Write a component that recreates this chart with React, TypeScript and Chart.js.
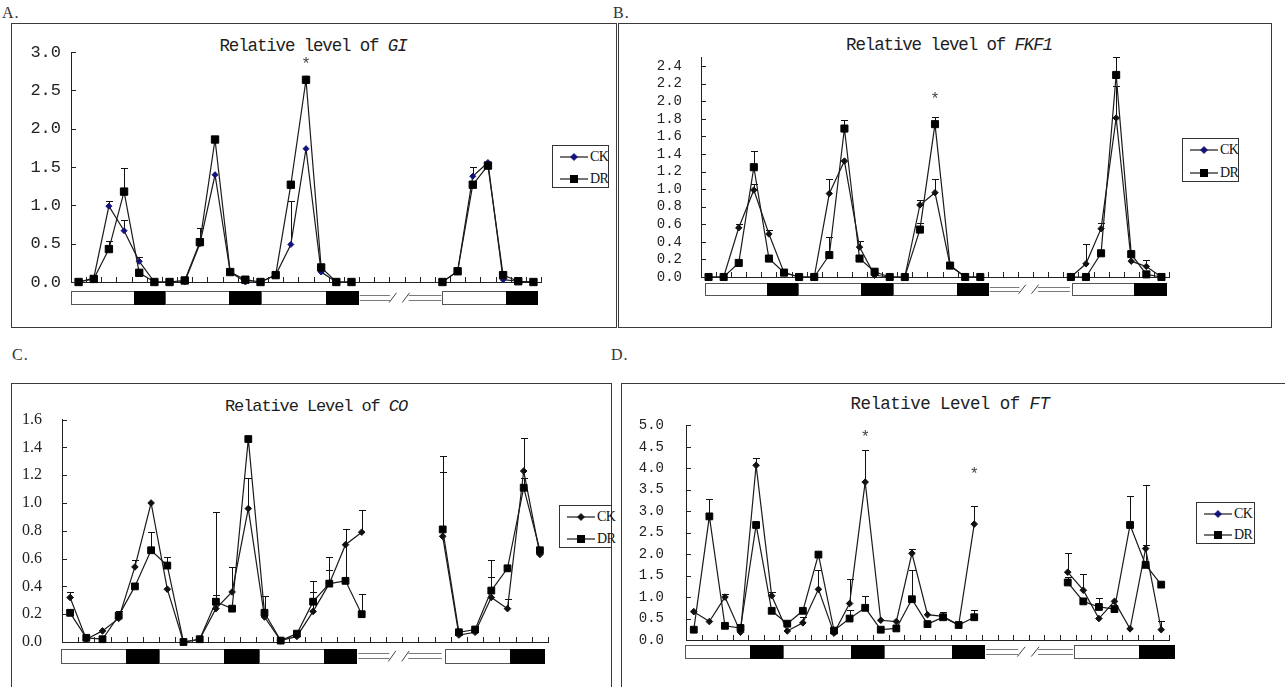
import React, { useEffect, useRef } from 'react';
import { Chart, registerables } from 'chart.js';
Chart.register(...registerables);

const _ = null;

const seriesNames = ['CK', 'DR'];

// sampling time points (h): three consecutive days, a break, then one more day
const timesLong = ['0', '4', '8', '12', '16', '20', '24', '28', '32', '36', '40', '44', '48', '52', '56', '60', '64', '68', '72', 'b1', 'b2', 'b3', 'b4', 'b5', '144', '148', '152', '156', '160', '164', '168'];
const timesShort = ['0', '4', '8', '12', '16', '20', '24', '28', '32', '36', '40', '44', '48', '52', '56', '60', '64', '68', '72', 'b1', 'b2', 'b3', 'b4', '144', '148', '152', '156', '160', '164', '168'];

// ---- A: GI ----
const giCK = [0, 0.05, 0.99, 0.67, 0.27, 0, 0, 0, 0.50, 1.40, 0.13, 0, 0, 0.09, 0.49, 1.74, 0.13, 0, 0, _, _, _, _, _, 0, 0.14, 1.38, 1.56, 0.03, 0.01, 0];
const giDR = [0, 0.04, 0.43, 1.18, 0.12, 0, 0, 0.02, 0.52, 1.86, 0.13, 0.03, 0, 0.09, 1.27, 2.64, 0.19, 0, 0, _, _, _, _, _, 0, 0.14, 1.27, 1.52, 0.09, 0.01, 0];
const giCKErr = [0, 0, 0.07, 0.14, 0.05, 0, 0, 0, 0, 0, 0, 0, 0, 0, 0.57, 0, 0, 0, 0, _, _, _, _, _, 0, 0, 0.12, 0, 0, 0, 0];
const giDRErr = [0, 0, 0.11, 0.31, 0, 0, 0, 0, 0.18, 0, 0, 0, 0, 0, 0, 0, 0, 0, 0, _, _, _, _, _, 0, 0, 0, 0, 0, 0, 0];
const giTicks = [0, 0.5, 1.0, 1.5, 2.0, 2.5, 3.0];
const giStarIdx = [15];
const giStarLvl = [2.84];
const giPhoto = [['L', -0.48, 3.67], ['D', 3.67, 5.71], ['L', 5.71, 9.92], ['D', 9.92, 12.03], ['L', 12.03, 16.3], ['D', 16.3, 18.41], ['L', 24.0, 28.16], ['D', 28.16, 30.26]];
const giBreak = [18.41, 24.0];

// ---- B: FKF1 ----
const fkCK = [0, 0, 0.56, 0.99, 0.49, 0.05, 0, 0, 0.95, 1.32, 0.34, 0.02, 0, 0, 0.82, 0.96, 0.13, 0, 0, _, _, _, _, _, 0, 0.15, 0.55, 1.81, 0.18, 0.12, 0];
const fkDR = [0, 0, 0.16, 1.25, 0.21, 0.05, 0, 0, 0.25, 1.69, 0.21, 0.06, 0, 0, 0.54, 1.74, 0.13, 0, 0, _, _, _, _, _, 0, 0, 0.27, 2.30, 0.26, 0.03, 0];
const fkCKErr = [0, 0, 0.04, 0.07, 0.04, 0, 0, 0, 0.17, 0, 0.07, 0, 0, 0, 0.06, 0.15, 0, 0, 0, _, _, _, _, _, 0, 0.22, 0.06, 0.37, 0, 0.07, 0];
const fkDRErr = [0, 0, 0, 0.19, 0, 0, 0, 0, 0.2, 0.1, 0, 0, 0, 0, 0.08, 0.08, 0, 0, 0, _, _, _, _, _, 0, 0, 0, 0.21, 0, 0, 0];
const fkTicks = [0, 0.2, 0.4, 0.6, 0.8, 1.0, 1.2, 1.4, 1.6, 1.8, 2.0, 2.2, 2.4];
const fkStarIdx = [15];
const fkStarLvl = [2.02];
const fkPhoto = [['L', -0.23, 3.89], ['D', 3.89, 5.93], ['L', 5.93, 10.1], ['D', 10.1, 12.25], ['L', 12.25, 16.45], ['D', 16.45, 18.5], ['L', 24.05, 28.2], ['D', 28.2, 30.3]];
const fkBreak = [18.5, 24.0];

// ---- C: CO ----
const coCK = [0.32, 0.02, 0.08, 0.17, 0.54, 1.0, 0.38, 0, 0.02, 0.24, 0.36, 0.96, 0.18, 0.01, 0.04, 0.22, 0.42, 0.70, 0.79, _, _, _, _, 0.76, 0.05, 0.07, 0.32, 0.24, 1.23, 0.63];
const coDR = [0.21, 0.03, 0.02, 0.19, 0.40, 0.66, 0.55, 0, 0.02, 0.29, 0.24, 1.46, 0.21, 0.01, 0.06, 0.29, 0.42, 0.44, 0.20, _, _, _, _, 0.81, 0.07, 0.09, 0.37, 0.53, 1.11, 0.66];
const coCKErr = [0.04, 0, 0, 0.05, 0.05, 0, 0, 0, 0, 0.10, 0.18, 0.22, 0, 0, 0, 0.14, 0.10, 0, 0.16, _, _, _, _, 0.46, 0, 0, 0.15, 0.07, 0.24, 0];
const coDRErr = [0, 0, 0, 0, 0, 0.13, 0.06, 0, 0, 0.645, 0, 0, 0.12, 0, 0, 0.15, 0.19, 0.37, 0.145, _, _, _, _, 0.53, 0, 0, 0.22, 0, 0.07, 0];
const coTicks = [0, 0.2, 0.4, 0.6, 0.8, 1.0, 1.2, 1.4, 1.6];
const coStarIdx: number[] = [];
const coStarLvl: number[] = [];
const coPhoto = [['L', -0.55, 3.45], ['D', 3.45, 5.46], ['L', 5.46, 9.51], ['D', 9.51, 11.63], ['L', 11.63, 15.68], ['D', 15.68, 17.67], ['L', 23.14, 27.13], ['D', 27.13, 29.24]];
const coBreak = [17.67, 23.0];

// ---- D: FT ----
const ftCK = [0.66, 0.43, 1.0, 0.18, 4.07, 1.03, 0.21, 0.40, 1.18, 0.16, 0.85, 3.68, 0.46, 0.43, 2.02, 0.59, 0.55, 0.35, 2.70, _, _, _, _, _, 1.58, 1.16, 0.50, 0.90, 0.26, 2.13, 0.24];
const ftDR = [0.24, 2.88, 0.33, 0.28, 2.68, 0.68, 0.38, 0.68, 1.99, 0.22, 0.50, 0.75, 0.24, 0.27, 0.95, 0.37, 0.53, 0.35, 0.53, _, _, _, _, _, 1.34, 0.90, 0.77, 0.72, 2.68, 1.75, 1.29];
const ftCKErr = [0, 0, 0.08, 0, 0.17, 0.09, 0, 0.13, 0.44, 0, 0.58, 0.75, 0, 0, 0.11, 0, 0, 0, 0.43, _, _, _, _, _, 0.44, 0.37, 0, 0, 0, 1.49, 0.20];
const ftDRErr = [0, 0.41, 0, 0, 0, 0, 0, 0, 0, 0, 0.2, 0.28, 0, 0, 0.68, 0, 0.12, 0, 0.18, _, _, _, _, _, 0.12, 0, 0.20, 0, 0.68, 0.47, 0];
const ftTicks = [0, 0.5, 1.0, 1.5, 2.0, 2.5, 3.0, 3.5, 4.0, 4.5, 5.0];
const ftStarIdx = [11, 18];
const ftStarLvl = [4.72, 3.86];
const ftPhoto = [['L', -0.55, 3.63], ['D', 3.63, 5.7], ['L', 5.7, 10.06], ['D', 10.06, 12.2], ['L', 12.2, 16.55], ['D', 16.55, 18.63], ['L', 24.4, 28.6], ['D', 28.6, 30.8]];
const ftBreak = [18.63, 24.4];

const NAVY = '#12127a';
const INK = '#1a1a1a';

const panels: any[] = [
  {
    key: 'A', letter: 'A.', letterPos: [2, 5], frame: [11, 23, 606, 305],
    titlePre: 'Relative level of', gene: 'GI', titleC: [313, 47], titleSize: 17.5, titleLS: -1.15,
    legend: [552, 145, 57, 43], legendCK: NAVY,
    labels: timesLong, ck: giCK, dr: giDR, ckErr: giCKErr, drErr: giDRErr, yMax: 3.0, yTicks: giTicks,
    photo: giPhoto, brk: giBreak, starIdx: giStarIdx, starLvl: giStarLvl,
    box: { left: 20, top: 32, width: 530, height: 290 }, yW: 51, pad: { top: 17, bottom: 40, right: 9 },
    tickPad: 10, tickFont: { family: 'Liberation Mono', size: 17 }, barGap: 9, barH: 13, ckColor: NAVY, ckR: 3, drR: 5.2,
  },
  {
    key: 'B', letter: 'B.', letterPos: [613, 5], frame: [618, 23, 654, 305],
    titlePre: 'Relative level of', gene: 'FKF1', titleC: [949, 46], titleSize: 17.5, titleLS: -1.15,
    legend: [1182, 138, 57, 44], legendCK: NAVY,
    labels: timesLong, ck: fkCK, dr: fkDR, ckErr: fkCKErr, drErr: fkDRErr, yMax: 2.5, yTicks: fkTicks,
    photo: fkPhoto, brk: fkBreak, starIdx: fkStarIdx, starLvl: fkStarLvl,
    box: { left: 640, top: 30, width: 540, height: 290 }, yW: 61, pad: { top: 19, bottom: 43, right: 11 },
    tickPad: 19, tickFont: { family: 'Liberation Mono', size: 14 }, barGap: 6, barH: 12, ckColor: '#111', ckR: 3.2, drR: 5,
  },
  {
    key: 'C', letter: 'C.', letterPos: [12, 347], frame: [11, 383, 601, 320],
    titlePre: 'Relative Level of', gene: 'CO', titleC: [316, 406], titleSize: 17, titleLS: -1.1,
    legend: [559, 505, 53, 43], legendCK: '#111',
    labels: timesShort, ck: coCK, dr: coDR, ckErr: coCKErr, drErr: coDRErr, yMax: 1.6, yTicks: coTicks,
    photo: coPhoto, brk: coBreak, starIdx: coStarIdx, starLvl: coStarLvl,
    box: { left: 12, top: 390, width: 545, height: 290 }, yW: 50, pad: { top: 19, bottom: 38, right: 9 },
    tickPad: 20, tickFont: { family: 'Liberation Serif', size: 16 }, barGap: 7, barH: 14, ckColor: '#111', ckR: 3.3, drR: 4.8,
  },
  {
    key: 'D', letter: 'D.', letterPos: [611, 347], frame: [621, 383, 700, 320],
    titlePre: 'Relative Level of', gene: 'FT', titleC: [950, 405], titleSize: 17.5, titleLS: -0.55,
    legend: [1196, 502, 59, 42], legendCK: NAVY,
    labels: timesLong, ck: ftCK, dr: ftDR, ckErr: ftCKErr, drErr: ftDRErr, yMax: 5.0, yTicks: ftTicks,
    photo: ftPhoto, brk: ftBreak, starIdx: ftStarIdx, starLvl: ftStarLvl,
    box: { left: 630, top: 395, width: 560, height: 285 }, yW: 56, pad: { top: 18, bottom: 40, right: 21 },
    tickPad: 22, tickFont: { family: 'Liberation Mono', size: 14 }, barGap: 5, barH: 13, ckColor: '#111', ckR: 3.3, drR: 4.8,
  },
];

function makeDecor(p: any) {
  return {
    id: 'decor' + p.key,
    beforeDatasetsDraw(chart: any) {
      const { ctx, scales: { x, y } } = chart;
      ctx.save();
      ctx.strokeStyle = '#111';
      ctx.lineWidth = 1;
      [p.dr, p.ck].forEach((vals: any[], d: number) => {
        const errs = d === 0 ? p.drErr : p.ckErr;
        errs.forEach((e: any, i: number) => {
          const v = vals[i];
          if (e == null || v == null || e <= 0) return;
          const px = Math.round(x.getPixelForValue(i)) + 0.5;
          const y0 = y.getPixelForValue(v);
          const y1 = Math.round(y.getPixelForValue(v + e)) + 0.5;
          ctx.beginPath();
          ctx.moveTo(px, y0);
          ctx.lineTo(px, y1);
          ctx.moveTo(px - 3.5, y1);
          ctx.lineTo(px + 3.5, y1);
          ctx.stroke();
        });
      });
      ctx.restore();
    },
    afterDraw(chart: any) {
      const { ctx, chartArea: ca, scales: { x, y } } = chart;
      ctx.save();
      ctx.strokeStyle = '#222';
      ctx.lineWidth = 1;
      ctx.beginPath();
      y.ticks.forEach((t: any) => {
        const py = Math.round(y.getPixelForValue(t.value)) + 0.5;
        ctx.moveTo(ca.left, py);
        ctx.lineTo(ca.left + 5, py);
      });
      const n = chart.data.labels.length;
      for (let i = 0; i <= n; i++) {
        const px = Math.round(x.getPixelForValue(i - 0.5)) + 0.5;
        ctx.moveTo(px, ca.bottom);
        ctx.lineTo(px, ca.bottom - 5);
      }
      ctx.stroke();

      // light / dark bar
      const top = Math.round(ca.bottom + p.barGap) + 0.5;
      const h = p.barH;
      p.photo.forEach((seg: any[]) => {
        const x0 = Math.round(x.getPixelForValue(seg[1])) + 0.5;
        const x1 = Math.round(x.getPixelForValue(seg[2])) + 0.5;
        if (seg[0] === 'D') {
          ctx.fillStyle = '#000';
          ctx.fillRect(x0 - 0.5, top - 0.5, x1 - x0 + 1, h + 1);
        } else {
          ctx.fillStyle = '#fff';
          ctx.fillRect(x0, top, x1 - x0, h);
          ctx.strokeStyle = '#555';
          ctx.strokeRect(x0, top, x1 - x0, h);
        }
      });
      // break symbol
      const bs = x.getPixelForValue(p.brk[0]) + 2;
      const be = x.getPixelForValue(p.brk[1]) - 1;
      const w = be - bs;
      const ya = Math.round(top + h * 0.27) + 0.5;
      const yb = Math.round(top + h * 0.62) + 0.5;
      ctx.strokeStyle = '#7a7a7a';
      ctx.beginPath();
      [[0, 0.37], [0.6, 1]].forEach(([f0, f1]) => {
        ctx.moveTo(bs + w * f0, ya); ctx.lineTo(bs + w * f1, ya);
        ctx.moveTo(bs + w * f0, yb); ctx.lineTo(bs + w * f1, yb);
      });
      ctx.stroke();
      ctx.strokeStyle = '#444';
      ctx.beginPath();
      [[0.36, 0.45], [0.52, 0.61]].forEach(([f0, f1]) => {
        ctx.moveTo(bs + w * f0, top + h * 0.85);
        ctx.lineTo(bs + w * f1, top + h * 0.1);
      });
      ctx.stroke();

      // significance asterisks
      ctx.fillStyle = '#444';
      ctx.font = '16px "Liberation Mono"';
      ctx.textAlign = 'center';
      ctx.textBaseline = 'middle';
      p.starIdx.forEach((i: number, k: number) => {
        ctx.fillText('*', x.getPixelForValue(i), y.getPixelForValue(p.starLvl[k]));
      });
      ctx.restore();
    },
  };
}

function GeneChart({ p }: { p: any }) {
  const ref = useRef<HTMLCanvasElement | null>(null);
  useEffect(() => {
    const chart = new Chart(ref.current as HTMLCanvasElement, {
      type: 'line',
      data: {
        labels: p.labels,
        datasets: [
          {
            label: seriesNames[1], data: p.dr, borderColor: INK, borderWidth: 1.2, tension: 0,
            pointStyle: 'rect', pointRadius: p.drR, pointBackgroundColor: '#000', pointBorderColor: '#000',
            pointBorderWidth: 1, spanGaps: false, clip: false,
          },
          {
            label: seriesNames[0], data: p.ck, borderColor: INK, borderWidth: 1.2, tension: 0,
            pointStyle: 'rectRot', pointRadius: p.ckR, pointBackgroundColor: p.ckColor, pointBorderColor: p.ckColor,
            pointBorderWidth: 1, spanGaps: false, clip: false,
          },
        ],
      } as any,
      options: {
        animation: false,
        responsive: true,
        maintainAspectRatio: false,
        events: [],
        layout: { padding: { top: p.pad.top, bottom: p.pad.bottom, right: p.pad.right, left: 0 } },
        plugins: { legend: { display: false }, title: { display: false }, tooltip: { enabled: false } },
        scales: {
          x: {
            type: 'category', offset: true,
            grid: { display: false, drawTicks: false },
            ticks: { display: false },
            border: { display: true, color: '#222', width: 1 },
            afterFit: (s: any) => { s.height = 0; },
          },
          y: {
            type: 'linear', min: 0, max: p.yMax,
            grid: { display: false, drawTicks: false },
            border: { display: true, color: '#222', width: 1 },
            ticks: {
              padding: p.tickPad, font: p.tickFont, color: '#222', autoSkip: false,
              callback: (v: any) => Number(v).toFixed(1),
            },
            afterBuildTicks: (s: any) => { s.ticks = p.yTicks.map((v: number) => ({ value: v })); },
            afterFit: (s: any) => { s.width = p.yW; },
          },
        },
      } as any,
      plugins: [makeDecor(p)],
    });
    return () => chart.destroy();
  }, []);
  return (
    <div style={{ position: 'absolute', left: p.box.left, top: p.box.top, width: p.box.width, height: p.box.height }}>
      <canvas ref={ref} />
    </div>
  );
}

function LegendBox({ p }: { p: any }) {
  const [l, t, w, h] = p.legend;
  const row = (k: number) => {
    const isCK = k === 0;
    const cy = k === 0 ? h * 0.25 : h * 0.77;
    return (
      <div key={k} style={{ position: 'absolute', left: 7, top: cy - 7, height: 14, display: 'flex', alignItems: 'center' }}>
        <svg width={28} height={12} style={{ display: 'block' }}>
          <line x1={0} y1={6} x2={28} y2={6} stroke={INK} strokeWidth={1.2} />
          {isCK ? (
            <polygon points="10.5,6 14,2.5 17.5,6 14,9.5" fill={p.legendCK} stroke={p.legendCK} strokeWidth={0.8} />
          ) : (
            <rect x={10} y={2} width={8} height={8} fill="#000" />
          )}
        </svg>
        <span style={{ marginLeft: 2, fontFamily: '"Liberation Serif", serif', fontSize: 14, letterSpacing: -0.6, color: '#111', lineHeight: '14px' }}>
          {seriesNames[k]}
        </span>
      </div>
    );
  };
  return (
    <div style={{ position: 'absolute', left: l, top: t, width: w, height: h, border: '1px solid #333', boxSizing: 'border-box', background: '#fff' }}>
      {row(0)}
      {row(1)}
    </div>
  );
}

export default function App() {
  return (
    <div style={{ position: 'absolute', left: 0, top: 0, width: 1285, height: 687, overflow: 'hidden', background: '#fff' }}>
      {panels.map((p) => (
        <div key={'f' + p.key} style={{
          position: 'absolute', left: p.frame[0], top: p.frame[1], width: p.frame[2], height: p.frame[3],
          border: '1px solid #3a3a3a', boxSizing: 'border-box',
        }} />
      ))}
      {panels.map((p) => (
        <div key={'l' + p.key} style={{
          position: 'absolute', left: p.letterPos[0], top: p.letterPos[1], fontFamily: '"Liberation Serif", serif',
          fontSize: 16, lineHeight: '16px', color: '#333', letterSpacing: 1,
        }}>{p.letter}</div>
      ))}
      {panels.map((p) => (
        <div key={'t' + p.key} style={{
          position: 'absolute', left: p.titleC[0], top: p.titleC[1], transform: 'translate(-50%, -50%)',
          whiteSpace: 'nowrap', fontFamily: '"Liberation Mono", monospace', fontSize: p.titleSize,
          letterSpacing: p.titleLS, lineHeight: 1, color: '#1e1e1e',
        }}>
          {p.titlePre} <i>{p.gene}</i>
        </div>
      ))}
      {panels.map((p) => <GeneChart key={'c' + p.key} p={p} />)}
      {panels.map((p) => <LegendBox key={'g' + p.key} p={p} />)}
    </div>
  );
}
